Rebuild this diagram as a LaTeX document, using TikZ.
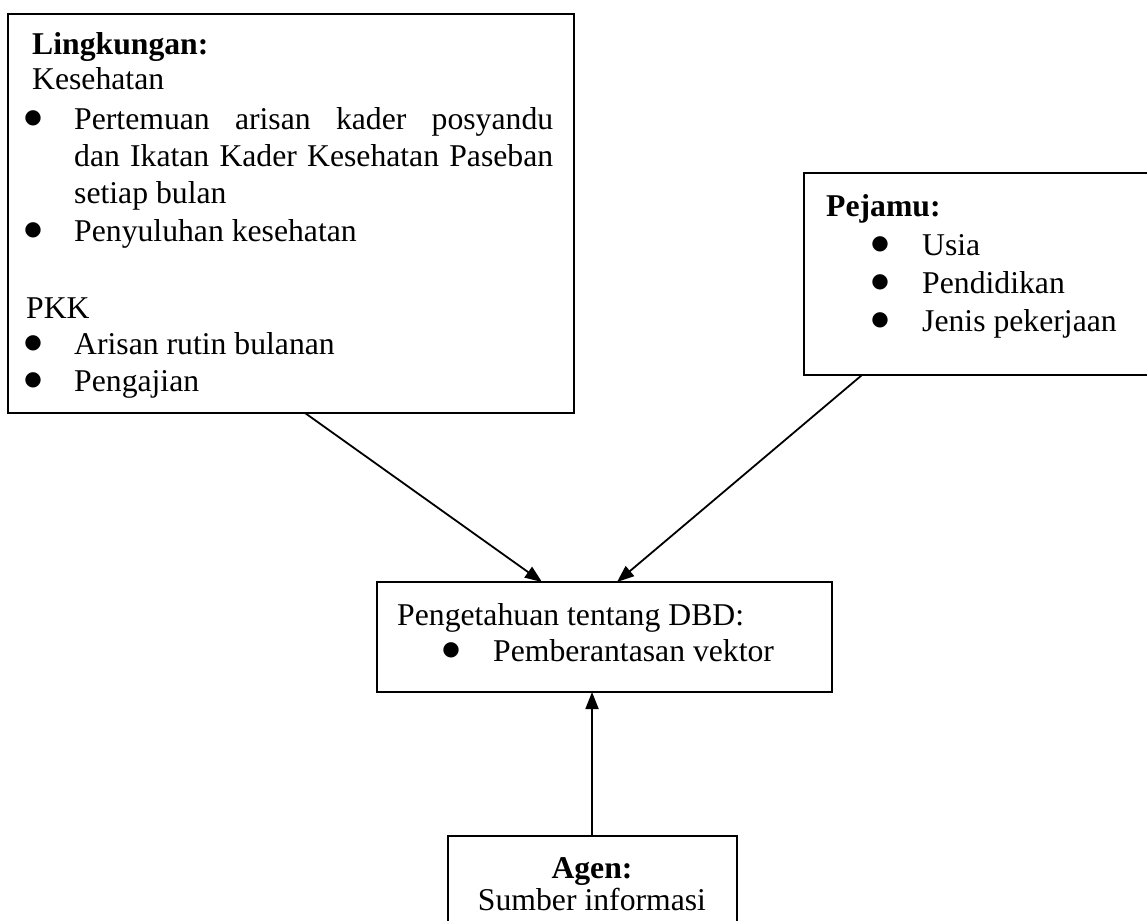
\documentclass[tikz,border=0pt]{standalone}
\usepackage{fontspec}
\setmainfont{Liberation Serif}
\newfontfamily\bulletfont{DejaVu Sans}
\usetikzlibrary{arrows.meta,calc}
\begin{document}
\begin{tikzpicture}[x=1pt,y=-1pt,
  box/.style={draw,line width=1.8pt,inner sep=0pt,outer sep=0pt,anchor=north west},
  txt/.style={inner sep=0pt,anchor=base west,font=\fontsize{31.7pt}{37pt}\selectfont},
  boldtxt/.style={inner sep=0pt,anchor=base west,font=\fontsize{31.7pt}{37pt}\selectfont\bfseries},
  ctxt/.style={inner sep=0pt,anchor=base,font=\fontsize{31.7pt}{37pt}\selectfont},
  cbold/.style={inner sep=0pt,anchor=base,font=\fontsize{31.7pt}{37pt}\selectfont\bfseries},
  blt/.style={inner sep=0pt,anchor=base,yshift=6pt,font=\bulletfont\fontsize{20pt}{20pt}\selectfont},
  arr/.style={line width=1.8pt,-{Triangle[length=17pt,width=13pt]}}]
\useasboundingbox (0,0) rectangle (1147,920);
% boxes
\node[box,minimum width=566pt,minimum height=399pt] (b1) at (8,14) {};
\node[box,minimum width=356pt,minimum height=202pt] (b2) at (804,173) {};
\node[box,minimum width=455pt,minimum height=110pt] (b3) at (377,582) {};
\node[box,minimum width=289pt,minimum height=120pt] (b4) at (448,836) {};
% box 1 text
\node[boldtxt] (l1) at (32,55) {Lingkungan:};
\node[txt] (l2) at (32,90) {Kesehatan};
\node[blt] (l3b) at (33,130) {●};
\node[txt] (l3) at (74,130) {\makebox[479pt][s]{Pertemuan arisan kader posyandu}};
\node[txt] (l4) at (74,167) {\makebox[479pt][s]{dan Ikatan Kader Kesehatan Paseban}};
\node[txt] (l5) at (74,204) {setiap bulan};
\node[blt] (l6b) at (33,241) {●};
\node[txt] (l6) at (74,241) {Penyuluhan kesehatan};
\node[txt] (l7) at (26,318) {PKK};
\node[blt] (l8b) at (33,354) {●};
\node[txt] (l8) at (74,354) {Arisan rutin bulanan};
\node[blt] (l9b) at (33,391) {●};
\node[txt] (l9) at (74,391) {Pengajian};
% box 2 text
\node[boldtxt] (p1) at (826,216) {Pejamu:};
\node[blt] (p2b) at (880,255) {●};
\node[txt] (p2) at (922,255) {Usia};
\node[blt] (p3b) at (880,293) {●};
\node[txt] (p3) at (922,293) {Pendidikan};
\node[blt] (p4b) at (880,331) {●};
\node[txt] (p4) at (922,331) {Jenis pekerjaan};
% box 3 text
\node[txt] (k1) at (397,625) {Pengetahuan tentang DBD:};
\node[blt] (k2b) at (451,661) {●};
\node[txt] (k2) at (493,661) {Pemberantasan vektor};
% box 4 text
\node[cbold] (a1) at (592,878) {Agen:};
\node[ctxt] (a2) at (592,910) {Sumber informasi};
% arrows
\draw[arr] ([xshift=297pt]b1.south west) -- ([xshift=165pt]b3.north west);
\draw[arr] ([xshift=58pt]b2.south west) -- ([xshift=240pt]b3.north west);
\draw[arr] ([xshift=144pt]b4.north west) -- ([xshift=215pt]b3.south west);
\end{tikzpicture}
\end{document}
